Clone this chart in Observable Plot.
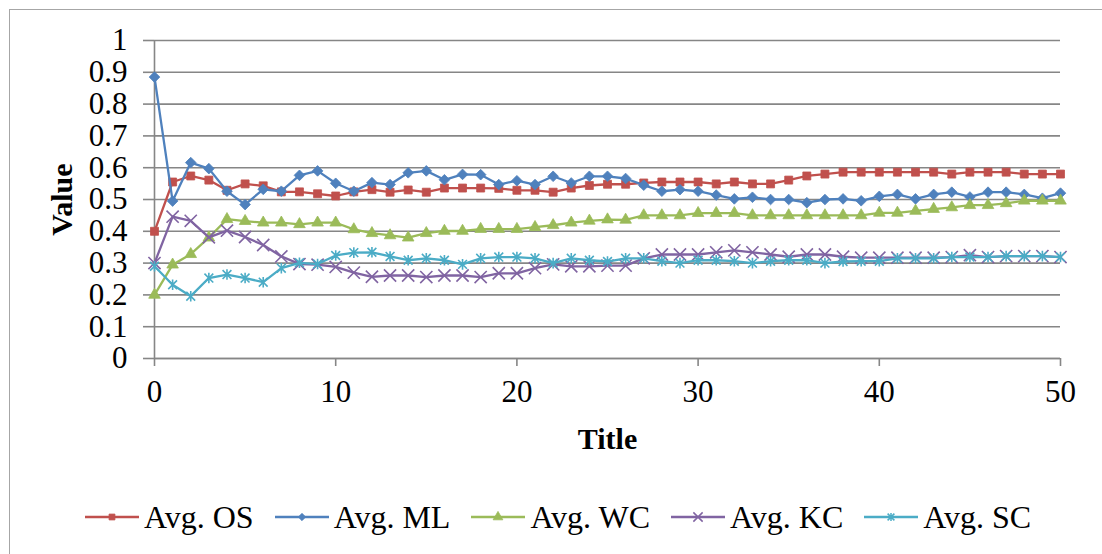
<!DOCTYPE html>
<html>
<head>
<meta charset="utf-8">
<script src="https://cdn.jsdelivr.net/npm/d3@7"></script>
<script src="https://cdn.jsdelivr.net/npm/@observablehq/plot@0.6"></script>
<style>
  html, body { margin: 0; padding: 0; background: #fff; }
  #wrap { position: relative; width: 1102px; height: 554px; overflow: hidden; font-family: "Liberation Serif", "Times New Roman", serif; }
  #frame { position: absolute; left: 9px; top: 9px; width: 1100px; height: 560px; border-top: 1.5px solid #a6a6a6; border-left: 1.5px solid #a6a6a6; }
  #chart { position: absolute; left: 0; top: 0; }
  #legend { position: absolute; left: 85px; top: 500px; height: 34px; display: flex; align-items: center; font-size: 32px; line-height: 34px; color: #000; }
  .item { display: flex; align-items: center; margin-right: 21px; }
  .item span { margin-left: 5px; white-space: nowrap; }
</style>
</head>
<body>
<div id="wrap">
  <div id="frame"></div>
  <div id="chart"></div>
  <div id="legend"></div>
</div>
<script>
// ---- data ----
const iterations = d3.range(0, 51);
const seriesNames = ["Avg. OS", "Avg. ML", "Avg. WC", "Avg. KC", "Avg. SC"];
const avgOS = [0.40,0.555,0.574,0.561,0.529,0.549,0.543,0.524,0.524,0.518,0.511,0.524,0.531,0.523,0.530,0.523,0.536,0.536,0.536,0.535,0.529,0.529,0.523,0.536,0.544,0.548,0.548,0.552,0.555,0.555,0.555,0.549,0.555,0.549,0.549,0.561,0.574,0.580,0.586,0.586,0.586,0.586,0.586,0.586,0.580,0.586,0.586,0.586,0.580,0.580,0.580];
const avgML = [0.885,0.495,0.616,0.597,0.526,0.484,0.532,0.526,0.576,0.590,0.551,0.526,0.553,0.547,0.584,0.590,0.562,0.579,0.578,0.547,0.559,0.547,0.573,0.552,0.573,0.573,0.566,0.545,0.526,0.531,0.526,0.514,0.502,0.507,0.500,0.500,0.490,0.500,0.502,0.496,0.510,0.516,0.502,0.516,0.523,0.508,0.523,0.523,0.516,0.504,0.520];
const avgWC = [0.20,0.295,0.328,0.380,0.438,0.432,0.427,0.427,0.422,0.427,0.427,0.406,0.394,0.387,0.380,0.394,0.401,0.401,0.407,0.407,0.407,0.413,0.419,0.427,0.433,0.437,0.436,0.450,0.450,0.450,0.457,0.457,0.457,0.450,0.450,0.450,0.450,0.450,0.450,0.450,0.458,0.458,0.464,0.470,0.475,0.482,0.482,0.488,0.496,0.496,0.496];
const avgKC = [0.30,0.446,0.433,0.381,0.402,0.382,0.357,0.321,0.297,0.295,0.288,0.270,0.257,0.261,0.261,0.256,0.261,0.261,0.256,0.268,0.268,0.284,0.296,0.290,0.290,0.292,0.292,0.315,0.327,0.327,0.327,0.334,0.340,0.334,0.327,0.320,0.327,0.327,0.320,0.317,0.317,0.317,0.317,0.317,0.319,0.325,0.319,0.322,0.322,0.322,0.319];
const avgSC = [0.29,0.232,0.196,0.253,0.264,0.253,0.240,0.284,0.301,0.297,0.324,0.333,0.334,0.321,0.309,0.315,0.309,0.296,0.315,0.319,0.319,0.315,0.300,0.315,0.309,0.305,0.315,0.315,0.306,0.300,0.309,0.309,0.306,0.300,0.306,0.309,0.309,0.300,0.305,0.306,0.306,0.315,0.315,0.315,0.319,0.319,0.319,0.322,0.322,0.322,0.319];
const xTicks = [0, 10, 20, 30, 40, 50];
const yTicks = [0, 0.1, 0.2, 0.3, 0.4, 0.5, 0.6, 0.7, 0.8, 0.9, 1];
const xTitle = "Title";
const yTitle = "Value";

// ---- styles ----
const colors = ["#C0504D", "#4F81BD", "#9BBB59", "#8064A2", "#4BACC6"];
const starSymbol = {
  draw(ctx, size) {
    const r = Math.sqrt(size / Math.PI);
    ctx.moveTo(-r, -r); ctx.lineTo(r, r);
    ctx.moveTo(-r, r); ctx.lineTo(r, -r);
    ctx.moveTo(0, -r * 1.2); ctx.lineTo(0, r * 1.2);
  }
};
const markerStyles = [
  {symbol: "square", r: 4.5, fill: true},
  {symbol: "diamond2", r: 4.8, fill: true},
  {symbol: "triangle", r: 4.3, fill: true},
  {symbol: "times", r: 5.6, fill: false},
  {symbol: starSymbol, r: 4.4, fill: false}
];

const allValues = [avgOS, avgML, avgWC, avgKC, avgSC];
const rows = [];
seriesNames.forEach((name, i) => {
  allValues[i].forEach((v, j) => rows.push({series: name, idx: i, x: iterations[j], y: v}));
});

const gridColor = "#868686";
const marks = [
  Plot.gridY(yTicks, {stroke: gridColor, strokeOpacity: 1, strokeWidth: 1.6}),
  Plot.ruleX([0], {stroke: gridColor, strokeWidth: 1.6}),
  Plot.ruleY([0], {stroke: gridColor, strokeWidth: 1.6}),
  Plot.axisY(yTicks, {tickSize: 11, tickPadding: 16, stroke: gridColor, strokeWidth: 1.6, fill: "#000", fontSize: 31, label: null, tickFormat: d => String(d)}),
  Plot.axisX(xTicks, {tickSize: 8, tickPadding: 13, stroke: gridColor, strokeWidth: 1.6, fill: "#000", fontSize: 31, label: null, tickFormat: d => String(d)}),
  Plot.text([yTitle], {frameAnchor: "left", dx: -92, rotate: -90, fontSize: 30, fontWeight: "bold", fill: "#000", textAnchor: "middle"}),
  Plot.text([xTitle], {frameAnchor: "bottom", dy: 90, fontSize: 30, fontWeight: "bold", fill: "#000", textAnchor: "middle"})
];
seriesNames.forEach((name, i) => {
  const data = rows.filter(d => d.series === name);
  const m = markerStyles[i];
  marks.push(Plot.line(data, {x: "x", y: "y", stroke: colors[i], strokeWidth: 2.3}));
  marks.push(Plot.dot(data, {
    x: "x", y: "y", symbol: () => m.symbol, r: m.r,
    fill: m.fill ? colors[i] : "none",
    stroke: colors[i], strokeWidth: m.fill ? 0.8 : 1.6
  }));
});

const chart = Plot.plot({
  width: 1102,
  height: 470,
  marginLeft: 154,
  marginRight: 42,
  marginTop: 40,
  marginBottom: 112,
  style: {fontFamily: '"Liberation Serif", "Times New Roman", serif', background: "transparent", color: "#000", overflow: "visible"},
  x: {domain: [0, 50], axis: null},
  y: {domain: [0, 1], axis: null},
  symbol: {type: "identity"},
  marks
});
document.getElementById("chart").appendChild(chart);

// ---- legend ----
const symMap = {square: d3.symbolSquare, diamond2: d3.symbolDiamond2, triangle: d3.symbolTriangle, times: d3.symbolTimes};
const legend = document.getElementById("legend");
const legendScale = [3.3, 3.3, 3.6, 4.3, 3.4];
seriesNames.forEach((name, i) => {
  const m = markerStyles[i];
  const item = document.createElement("div");
  item.className = "item";
  const svg = d3.create("svg").attr("width", 54).attr("height", 20);
  svg.append("line").attr("x1", 0).attr("x2", 54).attr("y1", 10).attr("y2", 10)
    .attr("stroke", colors[i]).attr("stroke-width", 2.3);
  const r = legendScale[i];
  const symType = typeof m.symbol === "string" ? symMap[m.symbol] : m.symbol;
  svg.append("path").attr("transform", "translate(27,10)")
    .attr("d", d3.symbol(symType, r * r * Math.PI)())
    .attr("fill", m.fill ? colors[i] : "none")
    .attr("stroke", colors[i]).attr("stroke-width", m.fill ? 0.8 : 1.5);
  item.appendChild(svg.node());
  const span = document.createElement("span");
  span.textContent = name;
  item.appendChild(span);
  legend.appendChild(item);
});
</script>
</body>
</html>
